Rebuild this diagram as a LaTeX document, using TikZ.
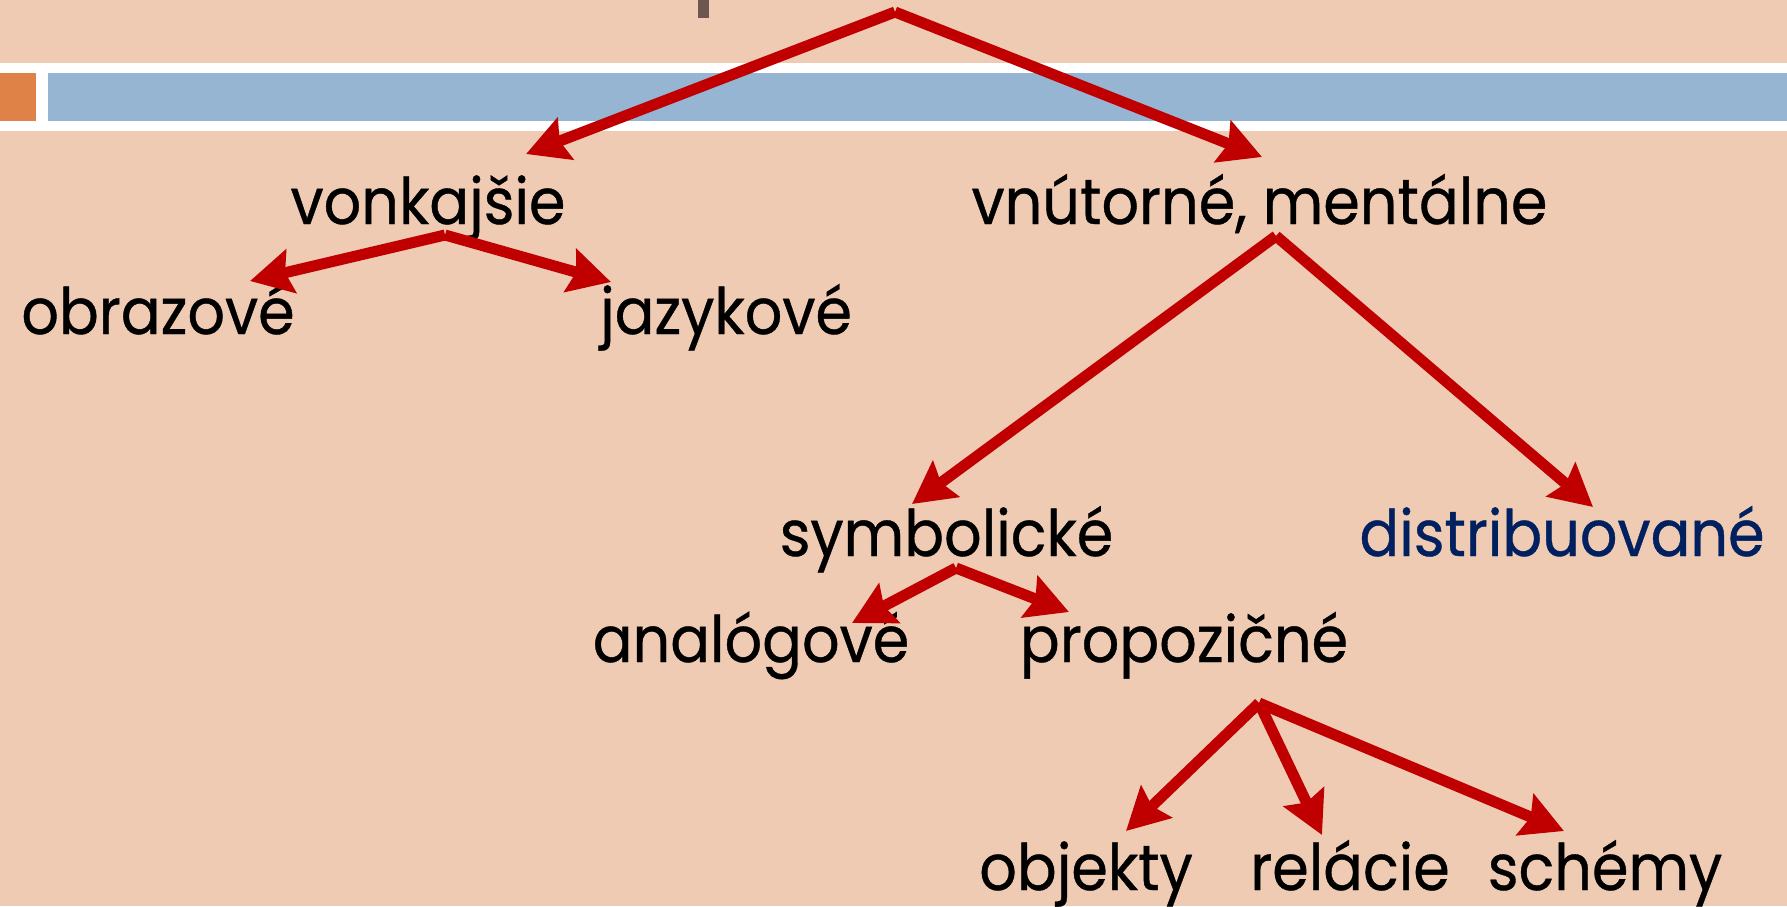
\documentclass[tikz,border=0pt]{standalone}
\usepackage{fontspec}
\setmainfont{Poppins}[FakeStretch=0.92, FakeBold=0.6]
\usetikzlibrary{arrows.meta}
\definecolor{peach}{RGB}{240,203,179}
\definecolor{barblue}{RGB}{149,181,211}
\definecolor{barorange}{RGB}{223,130,72}
\definecolor{arrred}{RGB}{192,0,0}
\definecolor{navy}{RGB}{0,32,96}
\definecolor{markgray}{RGB}{110,86,80}
\tikzset{
  lbl/.style={anchor=base, inner sep=0pt, font=\fontsize{32pt}{38pt}\selectfont, text=black},
  arr/.style={draw=arrred, line width=5.5pt, -{Stealth[length=21pt, width=22pt, inset=3pt]}},
}
\begin{document}
\begin{tikzpicture}[x=0.5pt, y=-0.5pt]
\useasboundingbox (0,0) rectangle (1787,906);
\fill[peach] (0,0) rectangle (1787,906);
\fill[white] (0,63) rectangle (1787,131);
\fill[barorange] (0,73) rectangle (36,121);
\fill[barblue] (48,73) rectangle (1787,121);
\fill[markgray] (698,0) rectangle (709,18);

\node[lbl] (vonk) at (428,224) {vonkajšie};
\node[lbl] (vnut) at (1259.5,224) {vnútorné, mentálne};
\node[lbl] (obr) at (158,334) {obrazové};
\node[lbl] (jaz) at (726,334) {jazykové};
\node[lbl] (sym) at (946.5,556) {symbolické};
\node[lbl, text=navy] (dist) at (1562,556) {distribuované};
\node[lbl] (analog) at (751,662) {analógové};
\node[lbl] (prop) at (1184,662) {propozičné};
\node[lbl] (obj) at (1086,890) {objekty};
\node[lbl] (rel) at (1350,890) {relácie};
\node[lbl] (sch) at (1605,890) {schémy};

\coordinate (top) at (895,12);
\coordinate (t-vonk) at (526,154);
\coordinate (t-vnut) at (1262,157);
\coordinate (o-vonk) at (445,235);
\coordinate (t-obr) at (250,281);
\coordinate (t-jaz) at (611,282);
\coordinate (o-vnut) at (1276,236);
\coordinate (t-sym) at (912,504);
\coordinate (t-dist) at (1593,507);
\coordinate (o-sym) at (956,568);
\coordinate (t-analog) at (852,623);
\coordinate (t-prop) at (1069,612);
\coordinate (o-prop) at (1259,703);
\coordinate (t-obj) at (1126,831);
\coordinate (t-rel) at (1322,835);
\coordinate (t-sch) at (1564,831);

\draw[arr] (top) -- (t-vonk);
\draw[arr] (top) -- (t-vnut);
\draw[arr] (o-vonk) -- (t-obr);
\draw[arr] (o-vonk) -- (t-jaz);
\draw[arr] (o-vnut) -- (t-sym);
\draw[arr] (o-vnut) -- (t-dist);
\draw[arr] (o-sym) -- (t-analog);
\draw[arr] (o-sym) -- (t-prop);
\draw[arr] (o-prop) -- (t-obj);
\draw[arr] (o-prop) -- (t-rel);
\draw[arr] (o-prop) -- (t-sch);
\end{tikzpicture}
\end{document}
